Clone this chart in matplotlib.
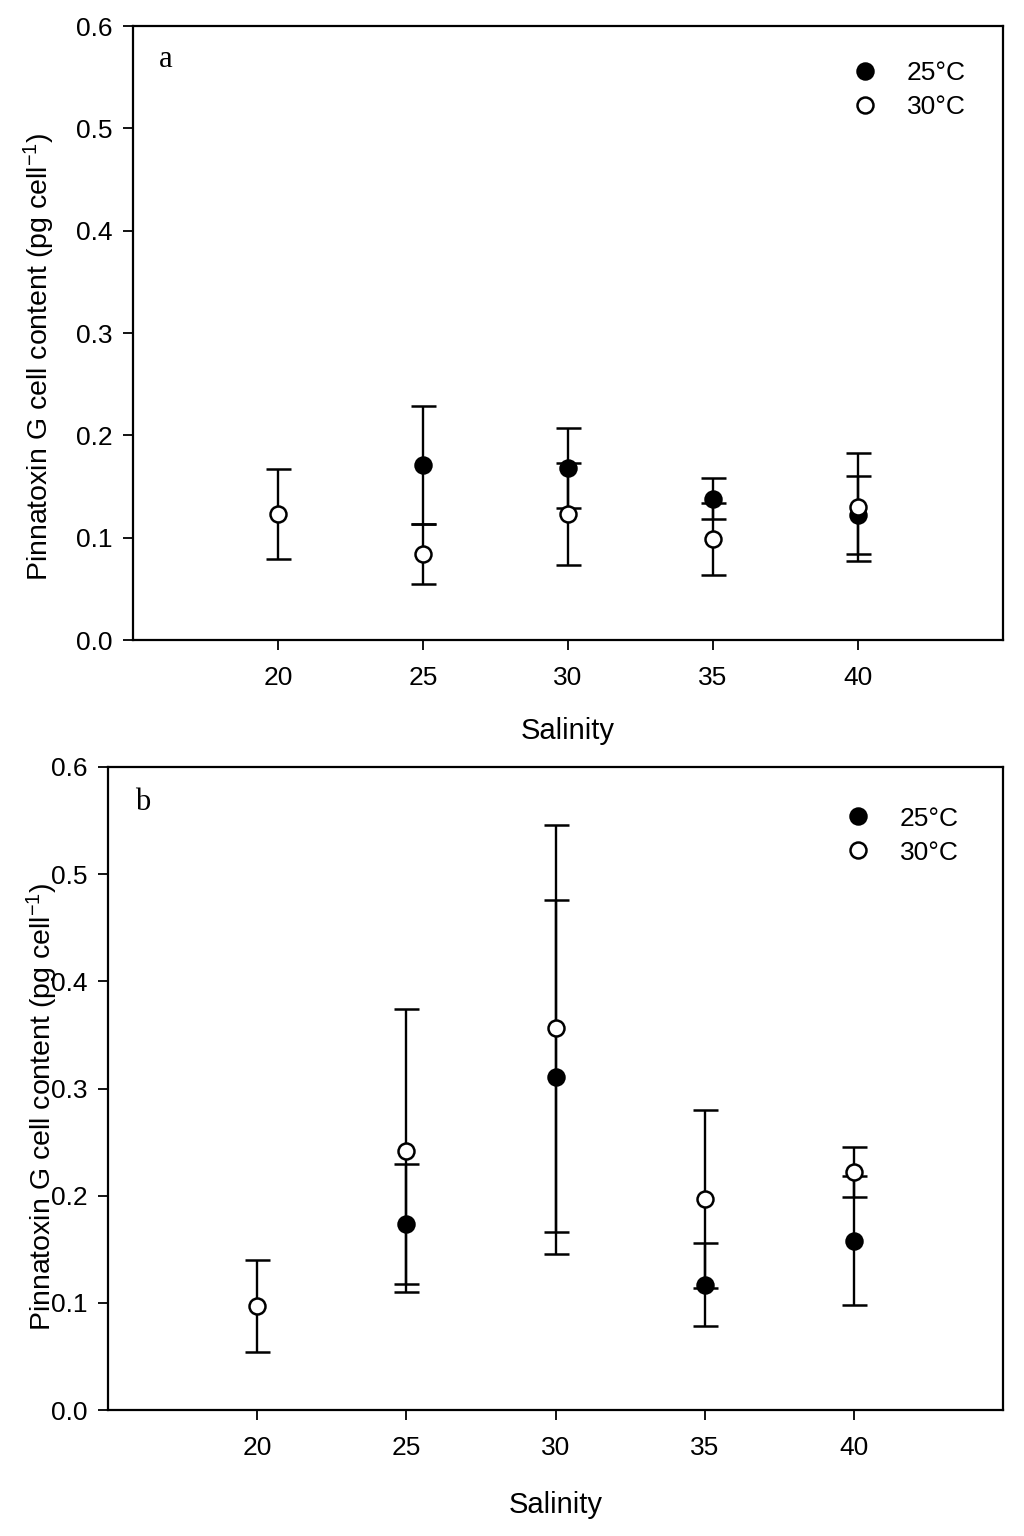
import numpy as np
import matplotlib
matplotlib.use("Agg")
import matplotlib.pyplot as plt

plt.rcParams["font.family"] = ["Liberation Sans", "DejaVu Sans"]
plt.rcParams["mathtext.fontset"] = "custom"
plt.rcParams["mathtext.rm"] = "Liberation Sans"
plt.rcParams["mathtext.it"] = "Liberation Sans"

# ---- data ----
ticks_x = [20, 25, 30, 35, 40]

# panel a
a_sal_25 = [25, 30, 35, 40]
a_mean_25 = [0.171, 0.168, 0.138, 0.122]
a_err_25 = [0.058, 0.039, 0.020, 0.038]
a_sal_30 = [20, 25, 30, 35, 40]
a_mean_30 = [0.123, 0.084, 0.123, 0.099, 0.130]
a_err_30 = [0.044, 0.029, 0.050, 0.035, 0.053]

# panel b
b_sal_25 = [25, 30, 35, 40]
b_mean_25 = [0.174, 0.311, 0.117, 0.158]
b_err_25 = [0.056, 0.165, 0.039, 0.060]
b_sal_30 = [20, 25, 30, 35, 40]
b_mean_30 = [0.097, 0.242, 0.356, 0.197, 0.222]
b_err_30 = [0.043, 0.132, 0.190, 0.083, 0.023]

ylabel = "Pinnatoxin G cell content (pg cell$^{-1}$)"


def panel(ax, letter, s25, m25, e25, s30, m30, e30, ylab_xy, leg_xy, xpad):
    ax.errorbar(s25, m25, yerr=e25, fmt="o", color="black", mfc="black",
                mec="black", ms=11.5, mew=1.8, elinewidth=1.7, capsize=9,
                capthick=1.7, label="25°C", zorder=3)
    ax.errorbar(s30, m30, yerr=e30, fmt="o", color="black", mfc="white",
                mec="black", ms=11.5, mew=1.8, elinewidth=1.7, capsize=9,
                capthick=1.7, label="30°C", zorder=4)
    ax.set_xlim(15, 45)
    ax.set_ylim(0, 0.6)
    ax.set_xticks(ticks_x)
    ax.set_yticks(np.arange(0, 0.61, 0.1))
    ax.set_yticklabels([f"{v:.1f}" for v in np.arange(0, 0.61, 0.1)])
    ax.tick_params(direction="out", length=7, width=1.3, labelsize=19)
    ax.tick_params(axis="x", pad=12)
    ax.tick_params(axis="y", pad=8)
    for sp in ax.spines.values():
        sp.set_linewidth(1.6)
    ax.set_xlabel("Salinity", fontsize=21, labelpad=xpad)
    ax.set_ylabel(ylabel, fontsize=20.5)
    ax.yaxis.set_label_coords(*ylab_xy)
    ax.text(0.03, 0.945, letter, transform=ax.transAxes, fontsize=22,
            family="Liberation Serif", va="center", ha="left")
    handles, labels = ax.get_legend_handles_labels()
    handles = [h[0] for h in handles]
    ax.legend(handles, labels, loc="upper right", frameon=False, fontsize=19,
              handletextpad=1.1, labelspacing=0.38, borderaxespad=1.0,
              bbox_to_anchor=leg_xy, handlelength=1.0)


fig = plt.figure(figsize=(10.24, 15.36), dpi=100)
ax1 = fig.add_axes([133/1024, 1 - 640/1536, 870/1024, 614/1536])
ax2 = fig.add_axes([108/1024, 1 - 1410/1536, 895/1024, 643/1536])

panel(ax1, "a", a_sal_25, a_mean_25, a_err_25, a_sal_30, a_mean_30, a_err_30,
      (-0.087, 0.462), (1.0, 1.003), 19)
panel(ax2, "b", b_sal_25, b_mean_25, b_err_25, b_sal_30, b_mean_30, b_err_30,
      (-0.054, 0.472), (0.992, 0.996), 22)

fig.savefig("out.png", dpi=100)
